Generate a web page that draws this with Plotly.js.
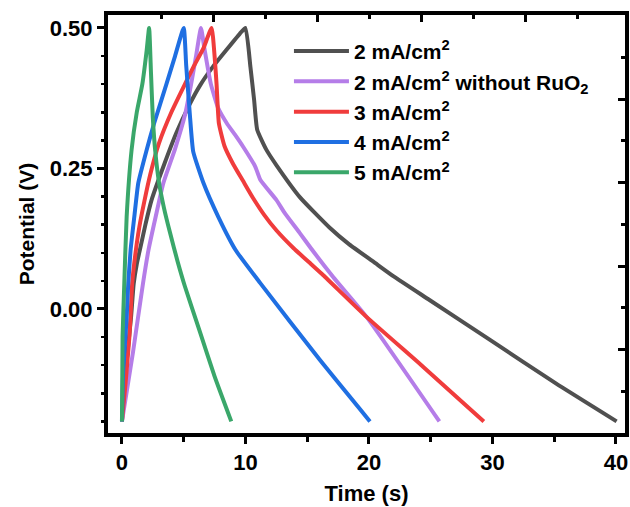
<!DOCTYPE html>
<html>
<head>
<meta charset="utf-8">
<script src="https://cdn.plot.ly/plotly-3.0.1.min.js"></script>
<style>html,body{margin:0;padding:0;background:#fff;}#chart{width:630px;height:507px;}</style>
</head>
<body>
<div id="chart"></div>
<script>
// Series names
const seriesNames = [
  "2 mA/cm<sup>2</sup>",
  "2 mA/cm<sup>2</sup> without RuO<sub>2</sub>",
  "3 mA/cm<sup>2</sup>",
  "4 mA/cm<sup>2</sup>",
  "5 mA/cm<sup>2</sup>"
];
const seriesColors = ["#505050", "#b57de8", "#f03c3c", "#1f6fe2", "#3aa76a"];

// 2 mA/cm2
const t2 = [0, 0.35, 0.73, 0.95, 1.2, 1.5, 1.9, 2.4, 3.35, 4.4, 5.5, 6.3, 7.4, 8.5, 9.55, 10.0,
            10.4, 10.7, 10.95, 11.7, 12.5, 14.4, 16.8, 18.4, 20.3, 22.0, 24.9, 29.8, 35.1, 40.05];
const v2 = [-0.2, -0.1, -0.016, 0.045, 0.08, 0.11, 0.15, 0.194, 0.253, 0.313, 0.365, 0.397, 0.432, 0.462, 0.49, 0.5,
            0.431, 0.372, 0.319, 0.283, 0.256, 0.199, 0.145, 0.115, 0.085, 0.058, 0.016, -0.055, -0.132, -0.2];

// 2 mA/cm2 without RuO2
const t2b = [0, 0.9, 1.7, 2.15, 2.73, 3.35, 4.3, 5.1, 5.6, 6.0, 6.4,
             6.67, 7.2, 7.8, 8.5, 9.15, 9.8, 10.8, 11.2, 12.5, 13.2, 14.4, 15.3, 17.1, 19.8, 25.7];
const v2b = [-0.2, -0.076, 0.045, 0.105, 0.164, 0.224, 0.285, 0.345, 0.40, 0.45, 0.5,
             0.464, 0.40, 0.357, 0.33, 0.31, 0.289, 0.253, 0.23, 0.194, 0.17, 0.135, 0.108, 0.057, -0.014, -0.2];

// 3 mA/cm2
const t3 = [0, 0.3, 0.6, 0.68, 0.83, 1.1, 1.4, 1.8, 2.3, 3.0, 4.0, 5.1, 5.8, 6.6, 7.26,
            7.5, 7.66, 7.85, 8.3, 9.0, 9.8, 10.6, 11.5, 12.5, 13.9, 15.3, 16.3, 19.8, 24.4, 29.3];
const v3 = [-0.2, -0.13, -0.05, -0.02, 0.046, 0.1, 0.145, 0.19, 0.24, 0.295, 0.35, 0.40, 0.431, 0.464, 0.5,
            0.45, 0.40, 0.33, 0.29, 0.258, 0.228, 0.198, 0.168, 0.14, 0.108, 0.08, 0.06, -0.014, -0.103, -0.2];

// 4 mA/cm2
const t4 = [0, 0.1, 0.38, 0.51, 0.7, 1.0, 1.32, 2.0, 2.6, 3.6, 4.3, 5.0,
            5.2, 5.5, 5.77, 6.6, 7.8, 9.2, 11.2, 16.0, 20.08];
const v4 = [-0.2, -0.11, -0.016, 0.046, 0.105, 0.164, 0.224, 0.283, 0.33, 0.40, 0.45, 0.5,
            0.434, 0.345, 0.28, 0.224, 0.164, 0.105, 0.046, -0.09, -0.2];

// 5 mA/cm2
const t5 = [0, 0.05, 0.19, 0.38, 0.78, 1.2, 1.65, 2.0, 2.2,
            2.35, 2.5, 2.7, 3.0, 3.4, 3.9, 4.5, 5.1, 6.3, 7.5, 8.85];
const v5 = [-0.2, -0.05, 0.046, 0.164, 0.283, 0.35, 0.40, 0.46, 0.5,
            0.42, 0.34, 0.28, 0.225, 0.18, 0.135, 0.085, 0.04, -0.04, -0.12, -0.2];

const xTickVals = [0, 10, 20, 30, 40];
const yTickVals = [0.00, 0.25, 0.50];
const yTickText = ["0.00", "0.25", "0.50"];

const xs = [t2, t2b, t3, t4, t5];
const ys = [v2, v2b, v3, v4, v5];

const traces = xs.map((x, i) => ({
  x: x, y: ys[i], type: "scatter", mode: "lines",
  name: seriesNames[i],
  line: {color: seriesColors[i], width: 4, shape: "spline", smoothing: 0.45}
}));

const fontFam = "Liberation Sans, Arial, sans-serif";

const layout = {
  width: 630, height: 507,
  margin: {l: 108, r: 5, t: 15, b: 74},
  paper_bgcolor: "#fff", plot_bgcolor: "#fff",
  showlegend: true,
  legend: {
    x: 0.35, y: 0.962, xanchor: "left", yanchor: "top",
    bgcolor: "rgba(0,0,0,0)", borderwidth: 0,
    font: {family: fontFam, size: 21, color: "#000", weight: "bold"},
    itemwidth: 55, tracegroupgap: 0
  },
  xaxis: {
    range: [-1.13, 40.73], showgrid: false, zeroline: false,
    showline: true, linecolor: "#000", linewidth: 4,
    ticks: "outside", ticklen: 7, tickwidth: 3, tickcolor: "#000",
    tickvals: xTickVals,
    minor: {dtick: 5, tick0: 0, ticks: "outside", ticklen: 5, tickwidth: 3, tickcolor: "#000"},
    tickfont: {family: fontFam, size: 22, color: "#000", weight: "bold"},
    title: {text: "Time (s)", font: {family: fontFam, size: 22, color: "#000", weight: "bold"}, standoff: 12}
  },
  yaxis: {
    range: [-0.2206, 0.523], showgrid: false, zeroline: false,
    showline: true, linecolor: "#000", linewidth: 4,
    ticks: "outside", ticklen: 7, tickwidth: 3, tickcolor: "#000",
    tickvals: yTickVals, ticktext: yTickText,
    minor: {dtick: 0.05, tick0: 0, ticks: "outside", ticklen: 3, tickwidth: 2.5, tickcolor: "#000"},
    tickfont: {family: fontFam, size: 22, color: "#000", weight: "bold"},
    title: {text: "Potential (V)", font: {family: fontFam, size: 21, color: "#000", weight: "bold"}, standoff: 10}
  },
  xaxis2: {
    overlaying: "x", side: "top", range: [0, 517], showgrid: false, zeroline: false,
    showline: true, linecolor: "#000", linewidth: 4,
    ticks: "inside", ticklen: 7, tickwidth: 3, tickcolor: "#000", tick0: 1, dtick: 104,
    showticklabels: false,
    minor: {dtick: 52, tick0: 1, ticks: "inside", ticklen: 4, tickwidth: 3, tickcolor: "#000"}
  },
  yaxis2: {
    overlaying: "y", side: "right", range: [0, 418], showgrid: false, zeroline: false,
    showline: true, linecolor: "#000", linewidth: 4,
    ticks: "inside", ticklen: 7, tickwidth: 3, tickcolor: "#000", tick0: 0, dtick: 83.5,
    showticklabels: false,
    minor: {dtick: 41.75, tick0: 0, ticks: "inside", ticklen: 4, tickwidth: 3, tickcolor: "#000"}
  }
};

traces.push({x: [], y: [], xaxis: "x2", yaxis: "y2", type: "scatter", mode: "lines", showlegend: false, hoverinfo: "skip"});

Plotly.newPlot("chart", traces, layout, {displayModeBar: false, staticPlot: true});
</script>
</body>
</html>
